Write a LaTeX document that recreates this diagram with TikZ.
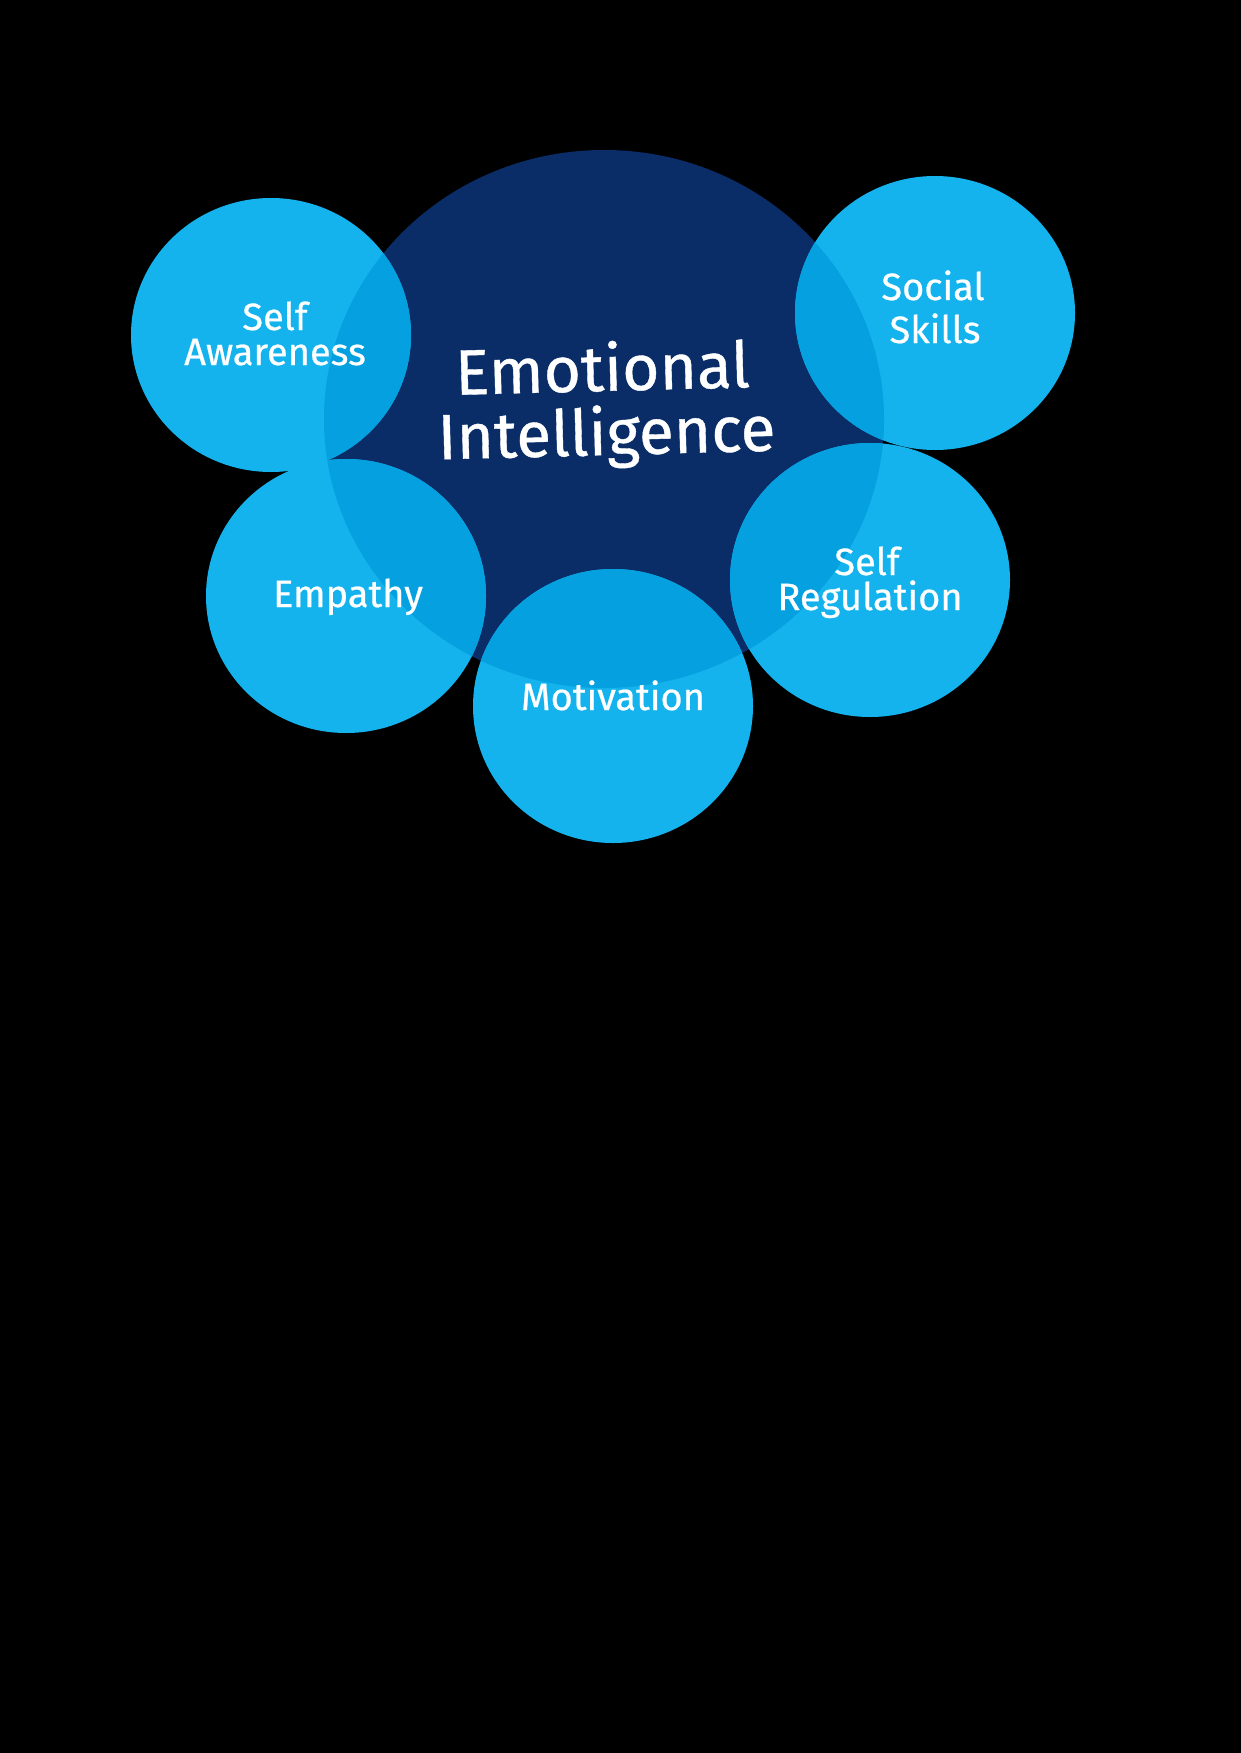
\documentclass[tikz,border=0pt]{standalone}
\usepackage{fontspec}
\setmainfont{Fira Sans}
\newfontfamily\lblfont{Fira Sans}[FakeBold=0.6]
\definecolor{lightb}{HTML}{14B3ED}
\definecolor{overb}{HTML}{04A0E0}
\definecolor{navyb}{HTML}{0A2D68}
\begin{document}
\begin{tikzpicture}[x=1pt,y=-1pt,
  lbl/.style={text=white, font=\lblfont\fontsize{38}{38}\selectfont, anchor=base, inner sep=0pt},
  big/.style={text=white, font=\lblfont\fontsize{64}{64}\selectfont, anchor=base, inner sep=0pt, rotate=1.5}]
\fill[black] (0,0) rectangle (1241,1753);
\useasboundingbox (0,0) rectangle (1241,1753);
\def\cent{(604,419) ellipse [x radius=280, y radius=269]}
% central circle
\fill[navyb] \cent;
% satellites
\foreach \p in {(271,335),(935,313),(346,596),(870,580),(613,706)}{
  \fill[lightb] \p ellipse [x radius=140, y radius=137];
  \begin{scope}
    \clip \cent;
    \fill[overb] \p ellipse [x radius=140, y radius=137];
  \end{scope}
}
% texts
\node[big] (emo) at (603,391) {Emotional};
\node[big] (int) at (607,455) {Intelligence};
\node[lbl] (sa1) at (275,330) {Self};
\node[lbl] (sa2) at (275,365) {Awareness};
\node[lbl] (ss1) at (933,300) {Social};
\node[lbl] (ss2) at (935,343) {Skills};
\node[lbl] (emp) at (348,607) {Empathy};
\node[lbl] (sr1) at (867,575) {Self};
\node[lbl] (sr2) at (870,610) {Regulation};
\node[lbl] (mot) at (613,710) {Motivation};
\end{tikzpicture}
\end{document}
